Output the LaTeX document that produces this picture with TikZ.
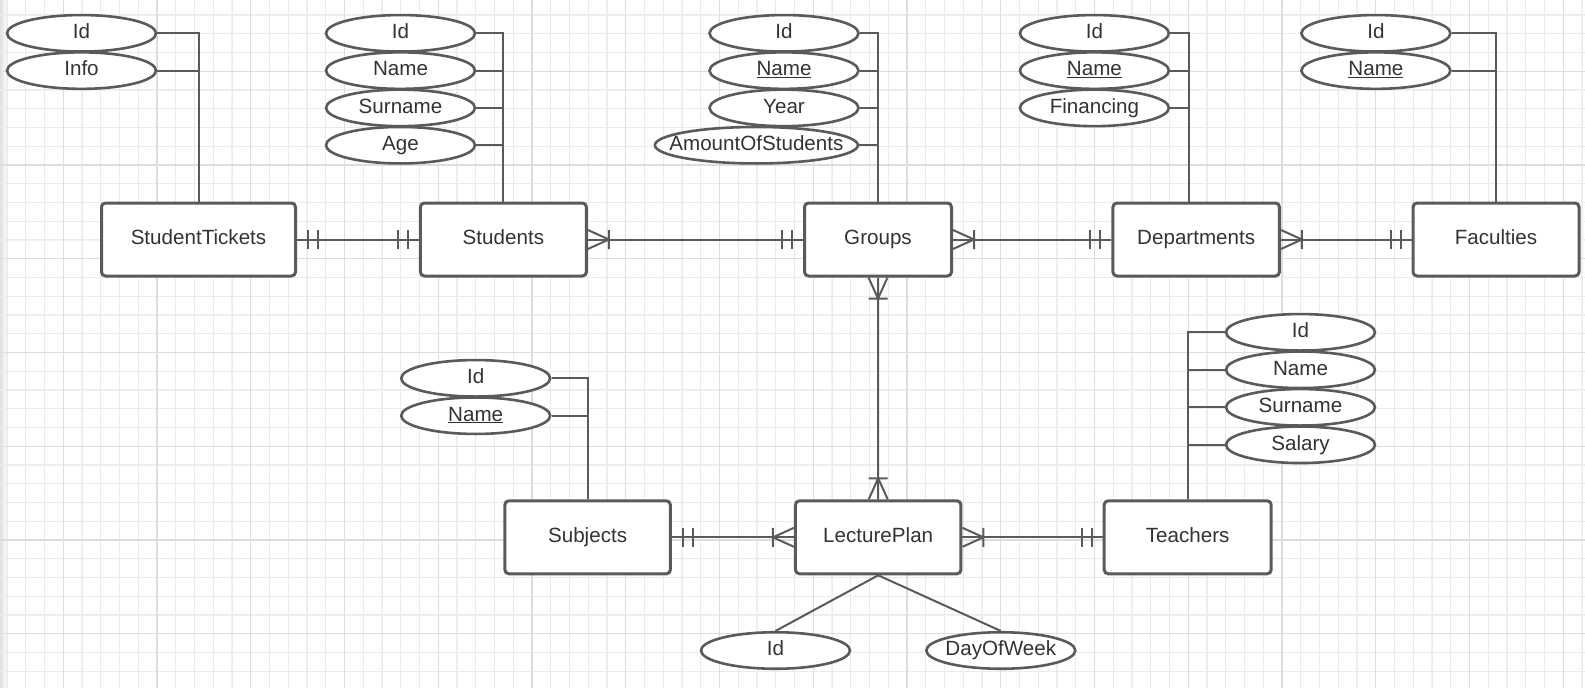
\documentclass[tikz,border=0pt]{standalone}
\usepackage{fontspec}
\setmainfont{Liberation Sans}
\usetikzlibrary{shapes.geometric,calc}
\definecolor{inkc}{HTML}{333333}
\definecolor{linec}{HTML}{5A5A5A}
\definecolor{gridc}{HTML}{EBEBEB}
\definecolor{gridl}{HTML}{F1F1F1}
\definecolor{gridd}{HTML}{DDDDDD}
\newcommand{\pk}[1]{\underline{#1}}
\newcommand{\erfont}{\fontsize{20.6}{24}\selectfont}

\tikzset{
  entity/.style={draw=linec, line width=3, rounded corners=4, fill=white, text=inkc,
    minimum width=166, minimum height=73, inner sep=0, text height=15, text depth=4.4, font=\erfont},
  attr/.style={ellipse, draw=linec, line width=2.6, fill=white, text=inkc,
    minimum width=149, minimum height=36.5, inner sep=0, text height=15, text depth=4.4, font=\erfont},
  link/.style={draw=linec, line width=2},
  onlyone/.pic={\draw[link] (11,-9.5) -- (11,9.5) (21,-9.5) -- (21,9.5);},
  onemany/.pic={\draw[link] (0,-9.5) -- (21,0) -- (0,9.5) (21,-9.5) -- (21,9.5);},
}

\begin{document}
\begin{tikzpicture}[x=1pt,y=-1pt]
  \useasboundingbox (0,0) rectangle (1585,688);
  % grid
  \fill[left color=black!12, right color=white] (0,0) rectangle (7,688);
  \foreach \i in {0,...,21} \draw[gridl, line width=2] (7+75*\i,0) -- (7+75*\i,688);
  \foreach \j in {0,...,8} \draw[gridl, line width=2] (0,14.8+75*\j) -- (1585,14.8+75*\j);
  \foreach \i in {0,...,84} \draw[gridc, line width=1] (7+18.75*\i,0) -- (7+18.75*\i,688);
  \foreach \j in {0,...,35} \draw[gridc, line width=1] (0,14.8+18.75*\j) -- (1585,14.8+18.75*\j);
  \foreach \i in {0,...,16} \draw[gridd, line width=1] (63.25+93.75*\i,0) -- (63.25+93.75*\i,688);
  \foreach \j in {0,...,6} \draw[gridd, line width=1] (0,71.05+93.75*\j) -- (1585,71.05+93.75*\j);
  \foreach \i in {0,...,3} \draw[gridd, line width=2] (157+375*\i,0) -- (157+375*\i,688);
  \foreach \j in {0,1} \draw[gridd, line width=2] (0,164.8+375*\j) -- (1585,164.8+375*\j);

  % entities
  \node[entity, minimum width=194] (tick) at (198.5,239.5) {StudentTickets};
  \node[entity] (stud) at (503.4,239.5) {Students};
  \node[entity, minimum width=147] (grp) at (878,239.5) {Groups};
  \node[entity, minimum width=166.5] (dep) at (1196.2,239.5) {Departments};
  \node[entity] (fac) at (1496,239.5) {Faculties};
  \node[entity, minimum width=165.5] (sub) at (587.6,537.3) {Subjects};
  \node[entity, minimum width=165.5] (lec) at (878.2,537.3) {LecturePlan};
  \node[entity, minimum width=167] (tea) at (1187.7,537.3) {Teachers};

  % attributes
  \foreach \t [count=\i] in {Id,Info}
    \node[attr] (tk\i) at (81.5,33.3+37.3*\i-37.3) {\t};
  \foreach \t [count=\i] in {Id,Name,Surname,Age}
    \node[attr] (st\i) at (400.5,33.3+37.3*\i-37.3) {\t};
  \foreach \t [count=\i] in {Id,\pk{Name},Year}
    \node[attr] (gr\i) at (784,33.3+37.3*\i-37.3) {\t};
  \node[attr, minimum width=203] (gr4) at (756.4,145.2) {\makebox[0pt]{AmountOfStudents}};
  \foreach \t [count=\i] in {Id,\pk{Name},Financing}
    \node[attr] (dp\i) at (1094.4,33.3+37.3*\i-37.3) {\t};
  \foreach \t [count=\i] in {Id,\pk{Name}}
    \node[attr] (fc\i) at (1375.9,33.3+37.3*\i-37.3) {\t};
  \foreach \t [count=\i] in {Id,\pk{Name}}
    \node[attr] (sb\i) at (475.7,378.3+37.4*\i-37.4) {\t};
  \foreach \t [count=\i] in {Id,Name,Surname,Salary}
    \node[attr] (tc\i) at (1300.5,332.3+37.5*\i-37.5) {\t};
  \node[attr] (lp1) at (775.5,650.5) {Id};
  \node[attr] (lp2) at (1000.8,650.5) {\makebox[0pt]{DayOfWeek}};

  % attribute links
  \foreach \i in {1,2} \draw[link] (tk\i.east) -| (tick.north);
  \foreach \i in {1,...,4} \draw[link] (st\i.east) -| (stud.north);
  \foreach \i in {1,...,4} \draw[link] (gr\i.east) -| (grp.north);
  \foreach \i in {1,...,3} \draw[link] (dp\i.east) -| ([xshift=-7]dep.north);
  \foreach \i in {1,2} \draw[link] (fc\i.east) -| (fac.north);
  \foreach \i in {1,2} \draw[link] (sb\i.east) -| (sub.north);
  \foreach \i in {1,...,4} \draw[link] (tea.north) |- (tc\i.west);
  \draw[link] (lec.south) -- (lp1.north);
  \draw[link] (lec.south) -- (lp2.north);

  % relations
  \draw[link] (tick.east) -- (stud.west);
  \pic at (tick.east) {onlyone};
  \pic[rotate=180] at (stud.west) {onlyone};
  \draw[link] (stud.east) -- (grp.west);
  \pic at (stud.east) {onemany};
  \pic[rotate=180] at (grp.west) {onlyone};
  \draw[link] (grp.east) -- (dep.west);
  \pic at (grp.east) {onemany};
  \pic[rotate=180] at (dep.west) {onlyone};
  \draw[link] (dep.east) -- (fac.west);
  \pic at (dep.east) {onemany};
  \pic[rotate=180] at (fac.west) {onlyone};
  \draw[link] (grp.south) -- (lec.north);
  \pic[rotate=-90] at (grp.south) {onemany};
  \pic[rotate=90] at (lec.north) {onemany};
  \draw[link] (sub.east) -- (lec.west);
  \pic at (sub.east) {onlyone};
  \pic[rotate=180] at (lec.west) {onemany};
  \draw[link] (lec.east) -- (tea.west);
  \pic at (lec.east) {onemany};
  \pic[rotate=180] at (tea.west) {onlyone};
\end{tikzpicture}
\end{document}
